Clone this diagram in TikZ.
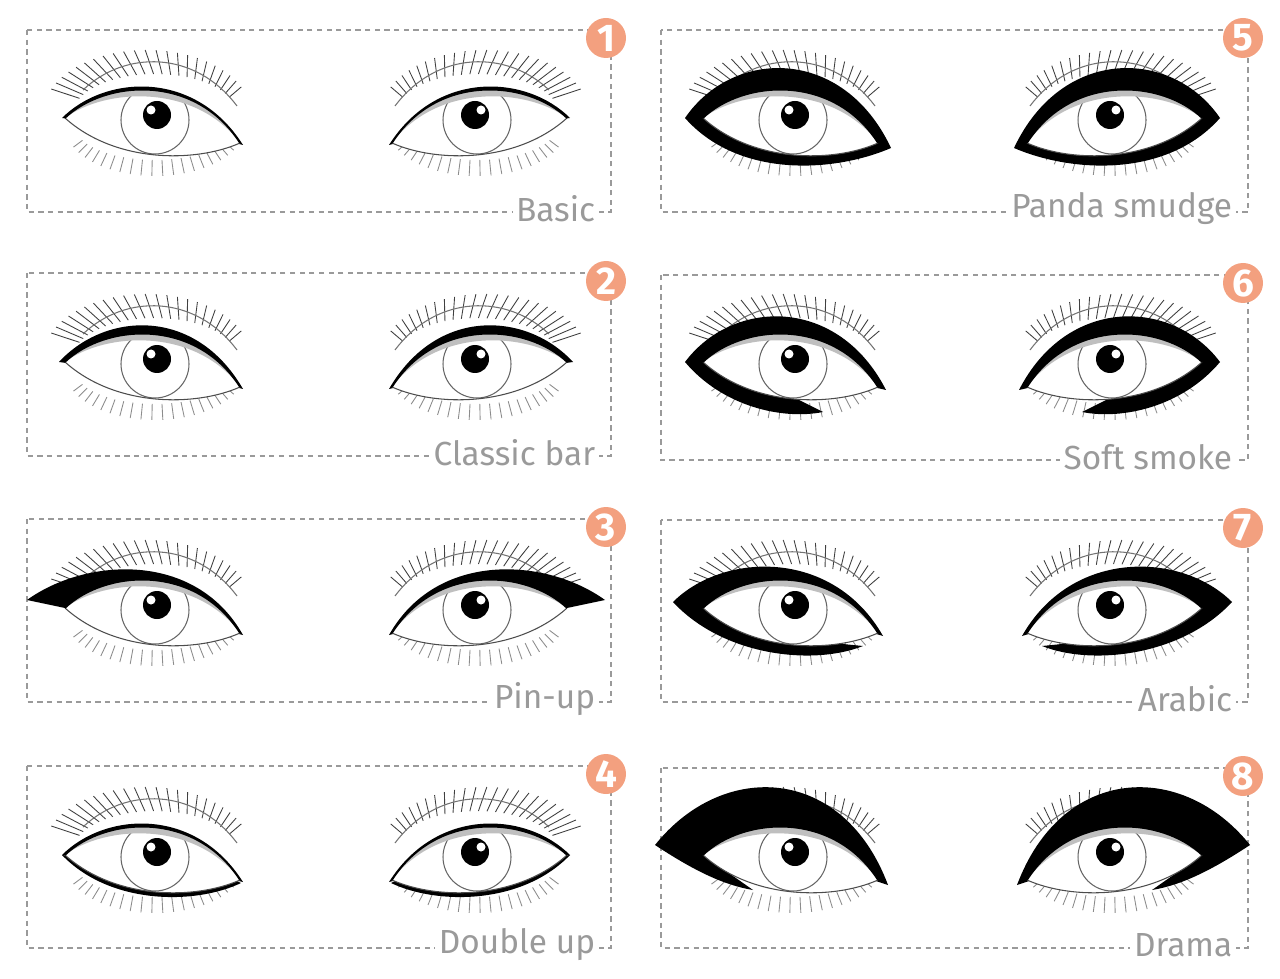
\documentclass[tikz,border=0pt]{standalone}
\usepackage{fontspec}
\setmainfont{Fira Sans}
\definecolor{badge}{HTML}{F3A07F}
\definecolor{labelgray}{HTML}{9A9A9A}
\tikzset{
  box/.style={draw=labelgray, line width=1.3pt, dash pattern=on 3pt off 2.5pt},
  badge/.style={circle, fill=badge, text=white, minimum size=40*0.02cm, inner sep=0pt, font=\fontsize{22}{22}\selectfont\bfseries},
  tag/.style={anchor=east, fill=white, inner sep=2pt, text=labelgray, font=\fontsize{19}{20}\selectfont},
  liner/.style={fill=black},
  lash/.style={line width=0.5pt, black!75},
}
% eye: #1 x, #2 y, #3 mirror (1 or -1), #4 liner code
\newcommand{\eyeshape}{(-90,0) .. controls (-50,38) and (40,45) .. (85,-25) .. controls (40,-45) and (-40,-45) .. (-90,0) -- cycle}
\newcommand{\drawEye}[4]{%
  \begin{scope}[shift={(#1,#2)}, yscale=-1, xscale=#3]
    % lashes
    \foreach \a in {25,31,...,160}
      \draw[lash] ({82*cos(\a)},{40*sin(\a)+4}) -- ({104*cos(\a)-8},{64*sin(\a)+4});
    \foreach \a in {205,212,...,335}
      \draw[lash, black!45] ({80*cos(\a)},{34*sin(\a)-8}) -- ({90*cos(\a)},{50*sin(\a)-8});
    % crease
    \draw[black!55, line width=0.6pt] (-72,28) .. controls (-30,68) and (40,68) .. (82,12);
    % liner
    #4
    % eyeball
    \fill[white] \eyeshape;
    \begin{scope}
      \clip \eyeshape;
      \draw[black!60, line width=0.6pt] (0,-2) circle (34);
      \fill[black!25] (-90,0) .. controls (-50,38) and (40,45) .. (85,-25) .. controls (40,35) and (-50,30) .. cycle;
    \end{scope}
    \fill[black] (2,3) circle (14);
    \fill[white] (-4,8) circle (4.5);
    \draw[black!70, line width=0.6pt] (-90,0) .. controls (-40,-45) and (40,-45) .. (85,-25);
    \draw[black, line width=0.9pt] (-90,0) .. controls (-50,38) and (40,45) .. (85,-25);
  \end{scope}}
\newcommand{\lnBasic}{\fill[liner] (-93,0) .. controls (-50,43) and (40,49) .. (88,-27) -- (80,-25) -- cycle;}
\newcommand{\lnClassic}{\fill[liner] (-96,0) .. controls (-50,50) and (40,56) .. (88,-27) -- (80,-25) -- cycle;}
\newcommand{\lnPinup}{\fill[liner] (-128,8) .. controls (-70,50) and (40,58) .. (88,-27) -- (80,-25) -- (-90,0) -- cycle;}
\newcommand{\lnDouble}{\lnBasic\fill[liner] (-93,0) .. controls (-45,-50) and (40,-50) .. (86,-28) -- (80,-25) -- cycle;}
\newcommand{\lnPanda}{\fill[liner] (-108,0) .. controls (-60,70) and (50,72) .. (98,-30) .. controls (40,-55) and (-55,-60) .. cycle;}
\newcommand{\lnSmoke}{\fill[liner] (-108,0) .. controls (-60,64) and (45,66) .. (93,-28) -- (80,-25) -- (-90,0)
  -- (0,-35) -- (30,-50) .. controls (-10,-58) and (-70,-45) .. cycle;}
\newcommand{\lnArabic}{\fill[liner] (-120,6) .. controls (-70,56) and (40,60) .. (90,-28) -- (80,-25) -- (-90,0)
  -- (40,-35) -- (70,-38) .. controls (20,-58) and (-70,-48) .. cycle;}
\newcommand{\lnDrama}{\fill[liner] (-138,10) .. controls (-70,95) and (50,90) .. (95,-30) -- (80,-25) -- (-90,0)
  -- (-40,-35) .. controls (-70,-30) and (-100,-15) .. cycle;}

\begin{document}
\begin{tikzpicture}[x=0.02cm, y=-0.02cm]
  \useasboundingbox (0,0) rectangle (1280,979);
  % boxes, badges and tags
  \foreach \n/\xa/\xb/\ya/\yb/\name in {
      1/27/611/30/212/Basic, 2/27/611/273/456/Classic bar,
      3/27/611/519/702/Pin-up, 4/27/611/766/948/Double up,
      5/661/1248/30/212/Panda smudge, 6/661/1248/275/460/Soft smoke,
      7/661/1248/520/702/Arabic, 8/661/1248/768/948/Drama} {
    \draw[box] (\xa,\ya) rectangle (\xb,\yb);
    \node[tag] (tag\n) at (\xb-12,\yb-3) {\name};
    \node[badge] (num\n) at (\xb-5,\ya+8) {\n};
  }
  % eyes
  \drawEye{155}{118}{1}{\lnBasic}     \drawEye{477}{118}{-1}{\lnBasic}
  \drawEye{155}{362}{1}{\lnClassic}   \drawEye{477}{362}{-1}{\lnClassic}
  \drawEye{155}{608}{1}{\lnPinup}     \drawEye{477}{608}{-1}{\lnPinup}
  \drawEye{155}{855}{1}{\lnDouble}    \drawEye{477}{855}{-1}{\lnDouble}
  \drawEye{793}{118}{1}{\lnPanda}     \drawEye{1112}{118}{-1}{\lnPanda}
  \drawEye{793}{362}{1}{\lnSmoke}     \drawEye{1112}{362}{-1}{\lnSmoke}
  \drawEye{793}{608}{1}{\lnArabic}    \drawEye{1112}{608}{-1}{\lnArabic}
  \drawEye{793}{855}{1}{\lnDrama}     \drawEye{1112}{855}{-1}{\lnDrama}
\end{tikzpicture}
\end{document}
